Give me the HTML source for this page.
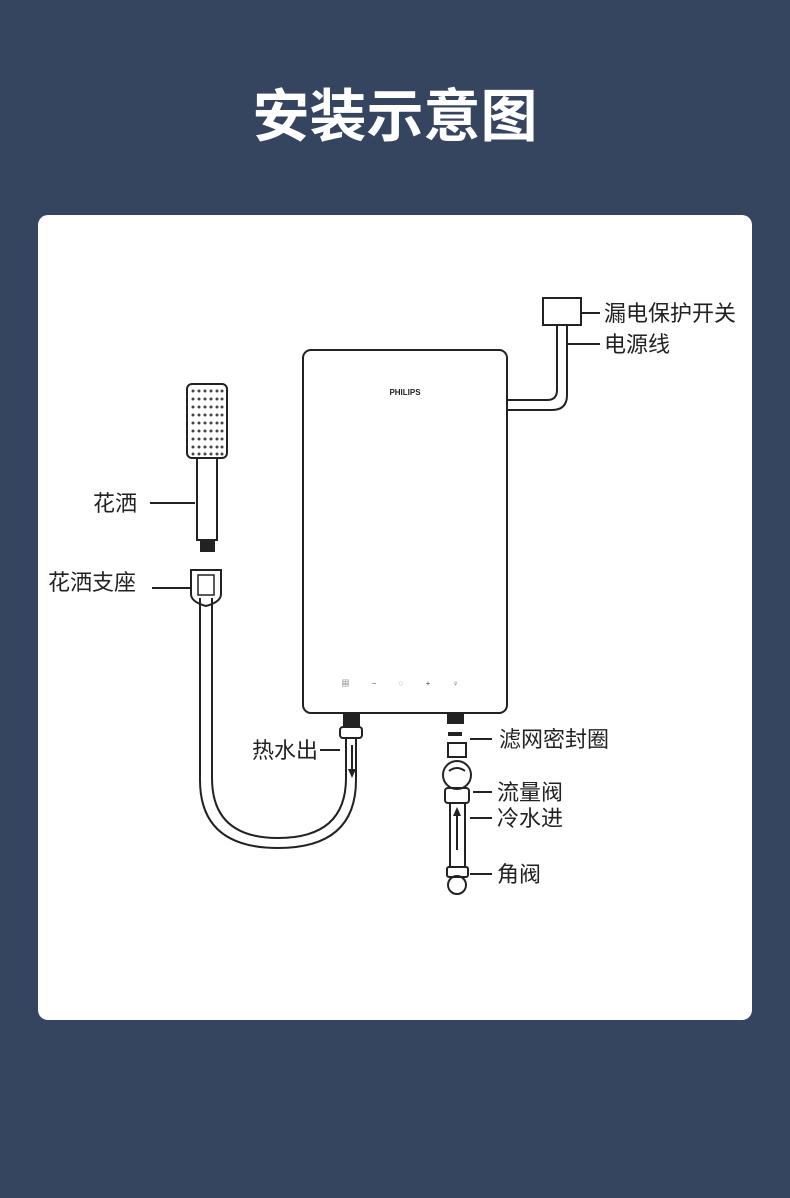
<!DOCTYPE html>
<html><head><meta charset="utf-8"><style>
body{margin:0;width:790px;height:1198px;background:#36455f;position:relative;overflow:hidden;font-family:"Liberation Sans","Noto Sans CJK SC",sans-serif}
.title{position:absolute;top:82px;left:0;width:790px;text-align:center;color:#fff;font-size:57px;line-height:70px;font-weight:bold;letter-spacing:0px}
.card{position:absolute;left:38px;top:215px;width:714px;height:805px;background:#fff;border-radius:10px}
svg{position:absolute;left:0;top:0}
</style></head><body>
<div class="title">安装示意图</div>
<div class="card"></div>
<svg width="790" height="1198" viewBox="0 0 790 1198">
<g fill="none" stroke="#222" stroke-width="2">
<rect x="303" y="350" width="204" height="363" rx="8"/>
<rect x="543" y="298" width="38" height="27"/>
<path d="M557 325 V390 Q557 400 547 400 H507"/>
<path d="M567 325 V395 Q567 410 552 410 H507"/>
<rect x="187" y="384" width="40" height="74" rx="5"/>
<rect x="197" y="458" width="20" height="82"/>
<path d="M200 598 V780 Q200 848 278 848 Q356 848 356 780 V738"/>
<path d="M212 598 V778 Q212 838 278 838 Q346 838 346 778 V738"/>
<path d="M191 570 h30 v24 q0 8 -15 12 q-15 -4 -15 -12 z"/>
<path d="M198 575 h16 v20 h-16 z" stroke-width="1.5"/>
<rect x="340" y="727" width="22" height="11" rx="3"/>
<rect x="448" y="743" width="18" height="14"/>
<circle cx="457" cy="775" r="14"/>
<path d="M449 771 q8 -6 16 0"/>
<rect x="445" y="788" width="24" height="15" rx="3"/>
<path d="M450 803 V868 M465 803 V868"/>
<rect x="447" y="867" width="21" height="10" rx="2"/>
<circle cx="457" cy="885" r="9"/>
<path d="M352 745 V775 M457 810 V850"/>
<path d="M150 503 H195 M152 588 H190 M320 750 H340 M470 739 H492 M473 792 H492 M470 818 H492 M470 874 H492 M581 313 H600 M567 344 H600"/>
</g>
<g fill="#222">
<rect x="200" y="540" width="15" height="12"/>
<rect x="343" y="713" width="17" height="14"/>
<rect x="447" y="713" width="17" height="11"/>
<rect x="448" y="732" width="14" height="4"/>
<path d="M348 769 l4 9 l4 -9 z M453 816 l4 -9 l4 9 z"/>
</g>
<g fill="#444">
<g id="r">
<circle cx="193" cy="391" r="1.5"/><circle cx="199" cy="391" r="1.5"/><circle cx="205" cy="391" r="1.5"/><circle cx="211" cy="391" r="1.5"/><circle cx="217" cy="391" r="1.5"/><circle cx="222" cy="391" r="1.5"/>
</g>
<use href="#r" y="8"/><use href="#r" y="16"/><use href="#r" y="24"/><use href="#r" y="32"/><use href="#r" y="40"/><use href="#r" y="48"/><use href="#r" y="56"/><use href="#r" y="63"/>
</g>
<text x="405" y="395" font-size="8" font-weight="bold" text-anchor="middle" fill="#222">PHILIPS</text>
<text x="405" y="686" font-size="8" text-anchor="middle" fill="#555" letter-spacing="10">▦ − ◌ + ♀</text>
<g font-size="22" fill="#222" font-family="Liberation Sans,Noto Sans CJK SC,sans-serif">
<text x="604" y="321">漏电保护开关</text>
<text x="604" y="352">电源线</text>
<text x="93" y="511">花洒</text>
<text x="48" y="590">花洒支座</text>
<text x="252" y="758">热水出</text>
<text x="499" y="747">滤网密封圈</text>
<text x="497" y="800">流量阀</text>
<text x="497" y="826">冷水进</text>
<text x="497" y="882">角阀</text>
</g>
</svg>
</body></html>
